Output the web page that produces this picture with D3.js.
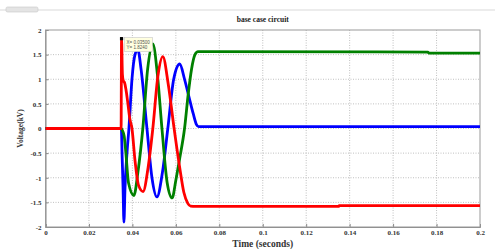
<!DOCTYPE html>
<meta charset="utf-8">
<script src="https://d3js.org/d3.v7.min.js"></script>
<style>
  body { margin: 0; background: #fff; }
  text { font-family: "Liberation Serif", "Times New Roman", serif; font-weight: bold; }
</style>
<div id="chart"></div>
<script>
const xTicks = [0, 0.02, 0.04, 0.06, 0.08, 0.1, 0.12, 0.14, 0.16, 0.18, 0.2];
const yTicks = [-2, -1.5, -1, -0.5, 0, 0.5, 1, 1.5, 2];

// phase voltages (time s, kV)
const redPhase = [
  [0, 0], [0.0348, 0], [0.0350, 1.824], [0.0354, 1.1], [0.0358, 0.97], [0.0364, 0.93],
  [0.0370, 0.8], [0.0378, 0.55], [0.0388, 0.2], [0.0398, 0], [0.0412, -0.65], [0.0428, -1.15],
  [0.0449, -1.28], [0.0472, -0.8], [0.0494, 0], [0.0517, 1.05], [0.0540, 1.46], [0.0565, 0.9],
  [0.0592, 0], [0.0618, -0.8], [0.0637, -1.3], [0.0655, -1.52], [0.0668, -1.575], [0.0690, -1.58],
  [0.135, -1.58], [0.1352, -1.565], [0.2, -1.565]
];
const bluePhase = [
  [0, 0], [0.0349, 0], [0.0353, -0.6], [0.0357, -1.2], [0.0361, -1.9], [0.0366, -1.2],
  [0.0375, -0.5], [0.0384, 0], [0.0398, 1.0], [0.0412, 1.5], [0.0425, 1.6], [0.0440, 1.2],
  [0.0467, 0], [0.0490, -1.0], [0.0513, -1.39], [0.0538, -0.9], [0.0563, 0], [0.0590, 1.0],
  [0.0618, 1.31], [0.0640, 1.0], [0.0660, 0.65], [0.0680, 0.3], [0.0695, 0.08], [0.0705, 0.04],
  [0.2, 0.04]
];
const greenPhase = [
  [0, 0], [0.0349, 0], [0.0355, -0.05], [0.0362, -0.15], [0.0370, -0.5], [0.0382, -1.1],
  [0.0407, -1.36], [0.0425, -0.9], [0.0448, 0], [0.0470, 1.2], [0.0494, 1.72], [0.0515, 1.1],
  [0.0536, 0], [0.0560, -1.1], [0.0583, -1.41], [0.0600, -1.05], [0.0618, -0.6], [0.0640, 0],
  [0.0657, 0.7], [0.0672, 1.2], [0.0688, 1.5], [0.0702, 1.56], [0.0720, 1.56],
  [0.176, 1.55], [0.1765, 1.53], [0.2, 1.53]
];
const tipPoint = [0.0350, 1.824];

const width = 495, height = 249;
const margin = { top: 30, right: 15, bottom: 22, left: 45.5 };
const w = width - margin.left - margin.right,
      h = height - margin.top - margin.bottom;

const svg = d3.select("#chart").append("svg")
  .attr("width", width).attr("height", height);

// figure toolbar strip
svg.append("rect").attr("x", 0).attr("y", 9).attr("width", width).attr("height", 2).attr("fill", "#ececec");
svg.append("rect").attr("x", 6).attr("y", 7).attr("width", 32).attr("height", 5).attr("rx", 1.5)
  .attr("fill", "#e4e4e4").attr("stroke", "#c8c8c8").attr("stroke-width", 0.6);

const g = svg.append("g").attr("transform", `translate(${margin.left},${margin.top})`);

const x = d3.scaleLinear().domain([0, 0.2]).range([0, w]);
const y = d3.scaleLinear().domain([-2, 2]).range([h, 0]);

// grid
g.append("g").selectAll("line").data(xTicks.slice(1, -1)).join("line")
  .attr("x1", d => x(d)).attr("x2", d => x(d)).attr("y1", 0).attr("y2", h)
  .attr("stroke", "#b0b0b0").attr("stroke-width", 0.8).attr("stroke-dasharray", "1,1.5");
g.append("g").selectAll("line").data(yTicks.slice(1, -1)).join("line")
  .attr("y1", d => y(d)).attr("y2", d => y(d)).attr("x1", 0).attr("x2", w)
  .attr("stroke", "#b0b0b0").attr("stroke-width", 0.8).attr("stroke-dasharray", "1,1.5");

// axes
const xAxis = g.append("g").attr("transform", `translate(0,${h})`)
  .call(d3.axisBottom(x).tickValues(xTicks).tickSize(-3).tickPadding(3).tickFormat(d => String(+d.toFixed(2))));
const yAxis = g.append("g")
  .call(d3.axisLeft(y).tickValues(yTicks).tickSize(-3).tickPadding(4).tickFormat(d => String(d)));
[xAxis, yAxis].forEach(a => {
  a.select(".domain").attr("stroke", "#888");
  a.selectAll(".tick line").attr("stroke", "#888");
  a.selectAll(".tick text").attr("fill", "#333").style("font-size", "7px")
    .style("font-family", "Liberation Serif, serif").style("font-weight", "bold");
});
g.append("rect").attr("width", w).attr("height", h).attr("fill", "none")
  .attr("stroke", "#999").attr("stroke-width", 1);

// lines
const line = d3.line().x(d => x(d[0])).y(d => y(d[1])).curve(d3.curveMonotoneX);
[[bluePhase, "#0000ff"], [greenPhase, "#008000"], [redPhase, "#ff0000"]].forEach(([data, c]) => {
  g.append("path").datum(data).attr("d", line)
    .attr("fill", "none").attr("stroke", c).attr("stroke-width", 2.8)
    .attr("stroke-linejoin", "round");
});

// data tip
g.append("rect").attr("x", x(tipPoint[0]) - 1.6).attr("y", y(tipPoint[1]) - 1.6)
  .attr("width", 3.2).attr("height", 3.2).attr("fill", "#000");
const tip = g.append("g").attr("transform", `translate(${x(tipPoint[0]) + 3},${y(tipPoint[1]) - 1})`);
tip.append("rect").attr("width", 28).attr("height", 14).attr("fill", "#ffffe0")
  .attr("stroke", "#bbb").attr("stroke-width", 0.5);
tip.append("text").attr("x", 2).attr("y", 6).style("font-size", "4.5px").style("font-weight", "normal")
  .style("font-family", "Liberation Sans, sans-serif").attr("fill", "#555").text("X= " + tipPoint[0].toFixed(5));
tip.append("text").attr("x", 2).attr("y", 11.5).style("font-size", "4.5px").style("font-weight", "normal")
  .style("font-family", "Liberation Sans, sans-serif").attr("fill", "#555").text("Y= " + tipPoint[1].toFixed(4));

// labels
svg.append("text").attr("x", margin.left + w / 2).attr("y", 22).attr("text-anchor", "middle")
  .style("font-size", "7.5px").attr("fill", "#222").text("base case circuit");
svg.append("text").attr("x", margin.left + w / 2).attr("y", 246.5).attr("text-anchor", "middle")
  .style("font-size", "9.5px").attr("fill", "#333").text("Time (seconds)");
svg.append("text").attr("transform", `translate(23,${margin.top + h / 2}) rotate(-90)`)
  .attr("text-anchor", "middle").style("font-size", "7.5px").attr("fill", "#333").text("Voltage(kV)");
</script>
